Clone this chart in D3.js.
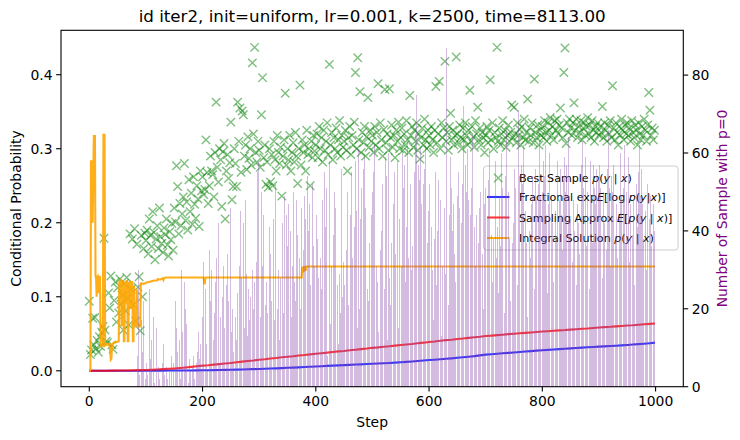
<!DOCTYPE html>
<html><head><meta charset="utf-8">
<script src="https://cdn.jsdelivr.net/npm/d3@7"></script>
<style>body{margin:0;background:#fff}svg{display:block;font-family:"DejaVu Sans",sans-serif}</style>
</head><body><svg id="c" width="740" height="440"></svg>
<script>
// ---------------- data ----------------
const chartTitle = "id iter2, init=uniform, lr=0.001, k=2500, time=8113.00";
const xLabel = "Step";
const yLabel = "Conditional Probability";
const y2Label = "Number of Sample with p=0";
const xTicks = [0, 200, 400, 600, 800, 1000];
const yTicks = [0.0, 0.1, 0.2, 0.3, 0.4];
const yTickLabels = ["0.0", "0.1", "0.2", "0.3", "0.4"];
const y2Ticks = [0, 20, 40, 60, 80];

// Best sample p(y|x), recorded every 2 steps from step 0
const bestSampleStride = 2;
const bestSample = [
.094,.022,.028,.071,.035,.072,.030,.041,.025,.046,.033,.052,.060,.179,.055,.040,.038,.105,.085,.128,.035,.029,.095,.120,.066,
.112,.078,.124,.090,.102,.055,.118,.081,.126,.098,.062,.185,.110,.178,.089,.192,.067,.171,.113,.127,.054,.183,.100,.165,.186,
.176,.190,.158,.205,.183,.168,.215,.187,.150,.178,.196,.165,.220,.181,.172,.160,.193,.184,.205,.170,.155,.188,.177,.199,.163,
.220,.201,.277,.249,.185,.226,.196,.212,.235,.280,.203,.228,.190,.258,.215,.240,.198,.262,.225,.206,.250,.232,.195,.270,.243,
.262,.238,.245,.312,.268,.226,.250,.290,.270,.265,.235,.295,.363,.275,.255,.300,.285,.222,.296,.307,.205,.270,.292,.260,.281,
.336,.231,.249,.300,.280,.249,.363,.310,.355,.268,.351,.346,.290,.305,.272,.316,.287,.300,.278,.416,.320,.437,.295,.282,.310,
.298,.275,.346,.396,.288,.305,.252,.282,.248,.300,.255,.292,.250,.310,.285,.270,.318,.295,.280,.302,.236,.290,.312,.375,.278,
.300,.285,.318,.270,.295,.308,.282,.322,.290,.253,.300,.386,.278,.312,.295,.305,.270,.325,.292,.300,.250,.310,.288,.318,.297,
.305,.320,.288,.330,.300,.315,.282,.325,.298,.310,.335,.292,.414,.305,.322,.285,.315,.300,.328,.295,.312,.338,.290,.318,.302,
.310,.325,.298,.270,.315,.330,.292,.318,.305,.336,.403,.300,.423,.312,.377,.295,.322,.308,.330,.290,.316,.369,.302,.325,.310,
.318,.295,.330,.305,.322,.388,.300,.335,.312,.290,.326,.380,.308,.320,.298,.381,.315,.332,.302,.318,.288,.325,.310,.336,.300,
.315,.328,.298,.320,.305,.338,.312,.295,.372,.318,.330,.302,.325,.310,.335,.298,.320,.286,.315,.328,.305,.340,.312,.300,.325,
.318,.305,.330,.312,.295,.325,.384,.308,.320,.391,.300,.335,.315,.328,.418,.310,.322,.298,.330,.348,.312,.325,.305,.318,.424,
.320,.308,.332,.315,.300,.328,.312,.335,.318,.305,.325,.379,.310,.330,.316,.302,.338,.320,.356,.312,.328,.305,.322,.315,.295,
.318,.330,.308,.325,.393,.312,.335,.300,.322,.315,.437,.310,.328,.305,.320,.338,.312,.325,.302,.318,.332,.310,.322,.359,.315,
.356,.320,.308,.335,.318,.326,.305,.330,.315,.340,.312,.322,.367,.310,.328,.318,.335,.308,.394,.322,.315,.332,.305,.325,.318,
.330,.315,.338,.322,.310,.335,.325,.342,.318,.330,.312,.338,.325,.340,.320,.332,.355,.328,.315,.403,.436,.307,.335,.322,.340,
.328,.318,.335,.362,.325,.340,.315,.330,.322,.338,.312,.328,.335,.318,.330,.342,.320,.332,.315,.338,.325,.310,.330,.322,.335,
.318,.330,.322,.357,.315,.335,.325,.310,.332,.320,.338,.315,.385,.328,.312,.335,.322,.305,.330,.318,.340,.325,.312,.332,.320,
.335,.318,.328,.310,.338,.322,.315,.332,.325,.305,.335,.320,.312,.330,.318,.340,.325,.310,.332,.376,.352,.318,.328,.312,.325
];

// Fractional exp E[log p(y|x)] and Sampling approx E[p(y|x)], every 10 steps (+ final step 999)
const lineSteps = d3.range(0, 1000, 10).concat([999]);
const fractional = [
0,0,0,0,0,0,0,0,.0001,.0001,
.0001,.0001,.0002,.0002,.0003,.0003,.0004,.0005,.0005,.0006,
.0007,.0008,.0009,.0011,.0012,.0014,.0016,.0018,.0020,.0022,
.0025,.0027,.0030,.0033,.0036,.0040,.0043,.0046,.0050,.0054,
.0058,.0062,.0066,.0070,.0073,.0077,.0080,.0084,.0087,.0091,
.0094,.0098,.0102,.0106,.0110,.0115,.0120,.0126,.0132,.0138,
.0145,.0150,.0156,.0162,.0168,.0175,.0182,.0190,.0198,.0208,
.0218,.0224,.0230,.0236,.0242,.0248,.0254,.0260,.0266,.0272,
.0278,.0283,.0288,.0293,.0298,.0303,.0308,.0313,.0318,.0322,
.0326,.0330,.0334,.0338,.0343,.0348,.0354,.0360,.0366,.0373,.0380
];
const sampling = [
0,0,.0001,.0001,.0002,.0003,.0004,.0005,.0007,.0009,
.0011,.0014,.0018,.0022,.0027,.0032,.0038,.0045,.0053,.0061,
.0070,.0075,.0083,.0090,.0098,.0105,.0116,.0124,.0133,.0140,
.0150,.0157,.0166,.0172,.0182,.0190,.0197,.0206,.0213,.0222,
.0230,.0238,.0245,.0254,.0262,.0268,.0278,.0285,.0293,.0300,
.0310,.0316,.0325,.0331,.0340,.0348,.0355,.0362,.0372,.0380,
.0390,.0396,.0405,.0414,.0420,.0430,.0436,.0445,.0453,.0460,
.0470,.0475,.0482,.0488,.0495,.0500,.0506,.0512,.0518,.0525,
.0530,.0535,.0541,.0546,.0550,.0556,.0562,.0568,.0572,.0578,
.0584,.0590,.0594,.0600,.0606,.0612,.0616,.0622,.0628,.0634,.0640
];

// Integral solution p(y|x)
const integralSteps = [0,1,2,3,4,5,6,7,8,9,10,11,12,13,14,15,16,17,18,19,20,21,22,23,24,25,26,27,28,29,30,31,32,33,34,35,36,37,38,39,40,41,42,43,44,45,46,47,48,49,50,51,52,
53,54,55,56,57,58,59,60,61,62,63,64,65,66,67,68,69,70,71,72,73,74,75,76,77,78,79,80,81,82,83,84,85,86,87,88,89,90,
91,95,96,100,105,110,115,120,121,125,130,131,132,135,140,200,201,202,203,204,205,206,370,375,376,377,378,379,380,381,382,383,999];
const integral = [0,0,.002,.283,.283,.283,.20,.26,.317,.317,.317,.128,.125,.10,.127,.128,.118,.105,.128,.126,.035,.033,.034,.034,.034,.319,.319,.319,.035,.036,.036,.035,.036,.036,.035,.036,.036,.025,.015,.016,.030,.036,.037,.038,.038,.038,.038,.039,.039,.039,.039,.040,.040,
.12,.121,.10,.122,.06,.121,.12,.122,.04,.04,.12,.118,.09,.122,.12,.04,.04,.12,.11,.122,.085,.085,.12,.12,.04,.04,.115,.06,.06,.062,.06,.11,.06,.062,.06,.06,.06,.06,
.118,.118,.117,.119,.120,.121,.122,.122,.124,.123,.125,.123,.125,.126,.126,.126,.126,.125,.118,.118,.126,.126,.126,.126,.14,.133,.141,.134,.14,.14,.135,.141,.141];

// Number of samples with p=0, one bar per step starting at step 85
const zeroCountStart = 85;
const zeroCount = [
8,0,30,17,3,12,0,17,5,9,0,22,4,11,2,
0,6,14,3,0,9,25,2,7,0, 12,4,0,18,6,1,10,0,3,15, 7,0,5,21,2,8,0,13,4,6, 0,11,28,3,0,9,5,16,2,7, 0,12,4,19,1,8,3,0,14,6,
10,3,22,7,15,0,9,26,4,12, 18,2,8,30,5,14,0,11,27,6, 20,3,16,9,24,1,13,7,19,4, 10,29,5,15,8,22,2,12,17,6, 25,9,3,14,20,7,11,28,4,16,
18,9,32,14,6,25,40,11,20,4, 28,15,35,8,22,17,30,5,24,12, 38,19,7,27,14,33,10,21,42,16, 6,29,18,36,12,23,9,31,20,15, 44,8,26,17,34,11,22,39,13,46,
25,14,38,20,30,9,44,27,18,35, 12,40,24,50,16,31,22,45,10,28, 36,19,42,26,15,33,48,21,29,13, 39,25,52,17,34,23,43,11,30,37, 20,46,27,16,41,32,24,55,19,58,
28,42,18,35,50,24,31,15,44,38, 50,21,33,27,46,19,36,29,41,14, 34,48,22,39,26,43,31,17,37,52, 25,40,20,45,30,36,12,47,28,33, 24,42,38,19,35,49,27,31,44,22,
36,29,47,53,25,40,34,18,45,31, 38,50,27,42,22,36,48,30,39,26, 44,33,51,20,37,46,29,41,35,24, 49,32,43,28,38,54,21,40,34,47, 30,26,45,39,52,23,36,42,31,48,
22,44,15,38,57,28,46,10,33,53, 25,18,48,36,12,55,30,41,20,51, 35,8,47,27,58,40,16,49,31,24, 54,39,14,50,21,46,34,60,26,43, 11,52,29,37,19,56,42,23,45,32,
47,26,53,66,35,12,50,38,21,57, 30,44,17,55,68,33,48,9,41,28, 58,24,45,36,15,61,39,20,54,43, 13,51,32,27,56,40,59,18,46,34, 63,25,42,22,53,37,11,57,44,29,
50,23,55,38,62,16,45,31,53,27, 57,14,42,51,35,58,40,19,52,33, 48,25,56,59,30,54,41,12,60,44, 28,53,21,49,37,64,26,47,17,55, 62,34,50,24,58,39,15,52,43,29,
54,31,46,60,22,51,38,57,27,53, 41,13,63,45,33,56,20,52,42,30, 59,36,50,18,55,44,65,28,75,48, 24,57,39,53,26,61,40,47,16,58, 52,32,56,43,62,29,49,37,54,45,
35,52,22,47,41,58,30,49,17,44, 38,55,62,26,50,40,19,53,33,45, 48,39,13,50,31,60,24,46,42,29, 56,87,36,48,21,54,44,32,59,23, 51,40,16,47,45,34,50,27,64,43,
49,30,55,38,46,18,59,42,33,52, 23,72,45,36,57,26,50,40,61,32, 48,15,54,44,29,51,37,65,21,49, 41,57,31,52,44,17,62,37,53,46, 25,50,39,60,34,52,20,56,47,35,
51,29,57,43,35,53,24,61,45,80, 39,50,27,55,38,48,16,58,44,33, 52,41,63,24,49,55,36,46,60,28, 51,40,57,19,48,54,34,66,44,31, 50,58,38,47,22,55,49,37,59,42,
46,56,32,51,39,60,26,49,71,43, 54,35,48,57,23,52,41,62,30,50, 45,58,37,55,18,49,64,40,51,33, 59,47,28,54,44,61,25,50,56,39, 48,31,57,52,42,63,36,49,55,45,
50,37,58,48,54,29,62,44,51,24, 55,47,40,60,33,52,49,57,42,72, 27,50,55,45,61,38,51,58,41,67, 48,30,56,49,44,63,35,53,47,59, 39,50,21,57,52,45,64,37,49,55,
43,58,51,32,61,48,55,40,73,50, 26,56,47,52,42,60,34,53,49,57, 45,63,30,51,56,41,59,48,36,55, 50,44,62,25,52,58,46,49,54,37, 57,43,51,60,47,31,56,50,45,53,
48,57,39,51,60,45,28,55,50,63, 42,52,58,35,49,56,47,66,41,51, 31,59,54,44,50,23,57,48,52,38, 61,47,55,33,50,58,43,54,60,40, 49,56,29,51,46,62,48,37,55,50,
52,42,59,49,32,56,47,68,51,39, 57,48,54,26,60,46,52,58,41,50, 55,34,62,49,44,56,51,47,80,38, 54,59,45,50,30,57,52,48,64,43, 55,49,60,36,51,56,47,54,40,58
];

// ---------------- drawing ----------------
const svg = d3.select("#c");
const L = 61, R = 683.3, T = 30.3, B = 386.7;
const x = d3.scaleLinear().domain([-49.95, 1048.95]).range([L, R]);
const y = d3.scaleLinear().domain([-0.0215, 0.46]).range([B, T]);
const y2 = d3.scaleLinear().domain([0, 91.5]).range([B, T]);

svg.append("defs").append("clipPath").attr("id", "clip")
  .append("rect").attr("x", L).attr("y", T).attr("width", R - L).attr("height", B - T);

const plot = svg.append("g").attr("clip-path", "url(#clip)");
const LW = 2.08;

// best sample markers
const xm = "M-4.2,-4.2L4.2,4.2M-4.2,4.2L4.2,-4.2";
plot.append("g").selectAll("path").data(bestSample).join("path")
  .attr("d", xm)
  .attr("transform", (d, i) => `translate(${x(i * bestSampleStride)},${y(d)})`)
  .attr("fill", "none").attr("stroke", "#008000").attr("stroke-opacity", 0.5).attr("stroke-width", 1.4);

const lineGen = (xs) => d3.line().x((d, i) => x(xs[i])).y(d => y(d));
plot.append("path").datum(fractional).attr("d", lineGen(lineSteps))
  .attr("fill", "none").attr("stroke", "blue").attr("stroke-opacity", 0.8).attr("stroke-width", LW);
plot.append("path").datum(sampling).attr("d", lineGen(lineSteps))
  .attr("fill", "none").attr("stroke", "red").attr("stroke-opacity", 0.8).attr("stroke-width", LW);
plot.append("path").datum(integral).attr("d", lineGen(integralSteps))
  .attr("fill", "none").attr("stroke", "orange").attr("stroke-opacity", 0.9).attr("stroke-width", LW);

// legend (left axes)
const lg = svg.append("g");
lg.append("rect").attr("x", 483.5).attr("y", 166).attr("width", 194.5).attr("height", 84).attr("rx", 3)
  .attr("fill", "#fff").attr("fill-opacity", 0.8).attr("stroke", "#ccc").attr("stroke-width", 1);
const rowsY = [178, 197, 217.5, 238];
const hx0 = 487, hx1 = 509.5, tx = 519;
lg.append("path").attr("d", xm).attr("transform", `translate(${(hx0 + hx1) / 2},${rowsY[0]})`)
  .attr("fill", "none").attr("stroke", "#008000").attr("stroke-opacity", 0.5).attr("stroke-width", 1.4);
[["blue", 0.8], ["red", 0.8], ["orange", 0.9]].forEach((c, k) => {
  lg.append("line").attr("x1", hx0).attr("x2", hx1).attr("y1", rowsY[k + 1]).attr("y2", rowsY[k + 1])
    .attr("stroke", c[0]).attr("stroke-opacity", c[1]).attr("stroke-width", LW);
});
const legendParts = [
  [["Best Sample ", 0], ["p", 1], ["(", 0], ["y", 1], [" | ", 0], ["x", 1], [")", 0]],
  [["Fractional exp", 0], ["E", 1], ["[log ", 0], ["p", 1], ["(", 0], ["y", 1], ["|", 0], ["x", 1], [")]", 0]],
  [["Sampling Approx ", 0], ["E", 1], ["[", 0], ["p", 1], ["(", 0], ["y", 1], [" | ", 0], ["x", 1], [")]", 0]],
  [["Integral Solution ", 0], ["p", 1], ["(", 0], ["y", 1], [" | ", 0], ["x", 1], [")", 0]]
];
legendParts.forEach((parts, k) => {
  const t = lg.append("text").attr("x", tx).attr("y", rowsY[k] + 4).attr("font-size", 11.1).attr("fill", "#000")
    .attr("xml:space", "preserve").style("white-space", "pre");
  parts.forEach(p => t.append("tspan").text(p[0]).attr("font-style", p[1] ? "italic" : "normal"));
});

// bars (twin axes, drawn on top); bar width 0.8 step, edges snapped to the pixel grid
const dx = x(1) - x(0);
const barL = (d, i) => Math.floor(x(zeroCountStart + i) - 0.4 * dx + 0.5);
const barR = (d, i) => Math.floor(x(zeroCountStart + i) + 0.4 * dx + 0.5);
const bars = svg.append("g").attr("clip-path", "url(#clip)");
bars.selectAll("rect").data(zeroCount).join("rect")
  .attr("x", barL)
  .attr("width", (d, i) => barR(d, i) - barL(d, i))
  .attr("y", d => y2(d))
  .attr("height", d => B - y2(d))
  .attr("fill", "#8e4fae").attr("fill-opacity", 0.38)
  .attr("shape-rendering", "crispEdges");

// frame
svg.append("rect").attr("x", L).attr("y", T).attr("width", R - L).attr("height", B - T)
  .attr("fill", "none").attr("stroke", "#000").attr("stroke-width", 1.1);

// axes
const tk = 4.9, fs = 13.9;
const ax = svg.append("g");
xTicks.forEach(v => {
  ax.append("line").attr("x1", x(v)).attr("x2", x(v)).attr("y1", B).attr("y2", B + tk).attr("stroke", "#000").attr("stroke-width", 1.1);
  ax.append("text").attr("x", x(v)).attr("y", B + tk + 3.5 + 10.5).attr("text-anchor", "middle").attr("font-size", fs).text(v);
});
yTicks.forEach((v, i) => {
  ax.append("line").attr("x1", L - tk).attr("x2", L).attr("y1", y(v)).attr("y2", y(v)).attr("stroke", "#000").attr("stroke-width", 1.1);
  ax.append("text").attr("x", L - tk - 3.5).attr("y", y(v) + 5).attr("text-anchor", "end").attr("font-size", fs).text(yTickLabels[i]);
});
y2Ticks.forEach(v => {
  ax.append("line").attr("x1", R).attr("x2", R + tk).attr("y1", y2(v)).attr("y2", y2(v)).attr("stroke", "#000").attr("stroke-width", 1.1);
  ax.append("text").attr("x", R + tk + 3.5).attr("y", y2(v) + 5).attr("text-anchor", "start").attr("font-size", fs).text(v);
});

const mid = (T + B) / 2;
svg.append("text").attr("x", (L + R) / 2).attr("y", 427).attr("text-anchor", "middle").attr("font-size", fs).text(xLabel);
svg.append("text").attr("transform", `translate(21,${mid}) rotate(-90)`).attr("text-anchor", "middle").attr("font-size", fs).text(yLabel);
svg.append("text").attr("transform", `translate(727,${mid}) rotate(-90)`).attr("text-anchor", "middle").attr("font-size", fs)
  .attr("fill", "purple").text(y2Label);
svg.append("text").attr("x", (L + R) / 2).attr("y", 21.5).attr("text-anchor", "middle").attr("font-size", 16.7).text(chartTitle);
</script></body></html>
